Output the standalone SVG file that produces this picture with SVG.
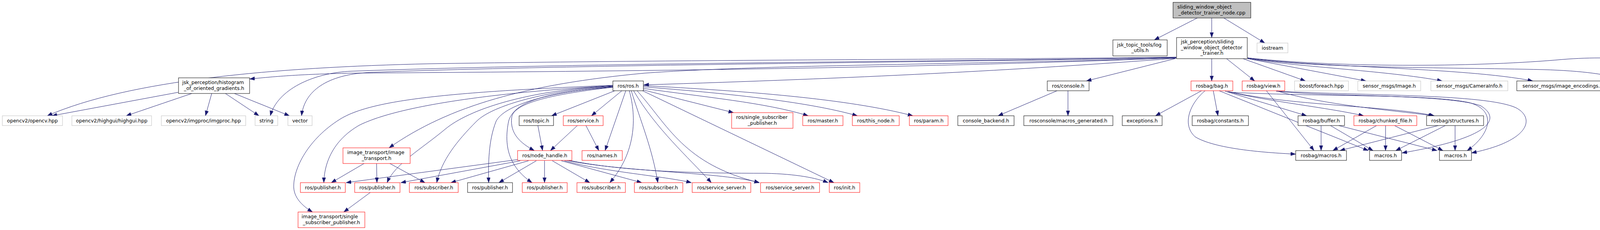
<svg xmlns="http://www.w3.org/2000/svg" width="4404" height="588" viewBox="0 0 4404 588">
<style>
text{font-family:"DejaVu Sans","Liberation Sans",sans-serif;font-size:12.5px;fill:#000}
.c{text-anchor:middle}
.blk rect{fill:#fff;stroke:#000;stroke-width:1}
.red rect{fill:#fff;stroke:#f00;stroke-width:1}
.gry rect{fill:#fff;stroke:#bfbfbf;stroke-width:1}
.root rect{fill:#bfbfbf;stroke:#000;stroke-width:1}
#edges path{fill:none;stroke:#191970;stroke-width:1;marker-end:url(#ah)}
</style>
<defs>
<marker id="ah" markerUnits="userSpaceOnUse" markerWidth="14" markerHeight="10" refX="13" refY="4.7" orient="auto">
<path d="M0,0 L13,4.7 L0,9.4 z" fill="#191970" stroke="#191970" stroke-width="0.5"/>
</marker>
</defs>
<rect x="0" y="0" width="4404" height="588" fill="#fff"/>
<g id="edges">
<path d="M3065,46 L2955,102"/>
<path d="M3102,46 L3102,96"/>
<path d="M3133,46 L3238,110"/>
<path d="M3011,149 C2600,180 2200,200 1648,217"/>
<path d="M3008,150 L2781,207"/>
<path d="M3011,146 C2600,152 1800,152 1100,163 C700,172 330,205 121,296"/>
<path d="M3011,148 C2300,176 1500,183 900,187 C760,190 700,196 639,202"/>
<path d="M3011,147 C2400,158 1500,160 900,182 C800,186 710,230 692,296"/>
<path d="M3011,147 C2400,160 1500,164 950,185 C850,189 780,225 772,296"/>
<path d="M3011,148 C2500,165 1950,165 1650,187 C1350,215 1150,270 996,378"/>
<path d="M3102,150 L3102,207"/>
<path d="M3140,150 L3212,207"/>
<path d="M3182,150 L3342,207"/>
<path d="M3194,150 L3497,207"/>
<path d="M3194,149 C3300,170 3550,180 3692,207"/>
<path d="M3194,148 C3350,172 3750,172 3924,207"/>
<path d="M3194,148 C3350,175 3700,172 3950,178 C4050,181 4120,190 4168,207"/>
<path d="M3194,148 C3450,175 3800,170 4000,152 C4150,140 4280,155 4333,207"/>
<path d="M1574,232 L1412,296"/>
<path d="M1592,232 L1514,296"/>
<path d="M1602,232 L1549,385"/>
<path d="M1569,223 C1420,240 1315,262 1310,300 C1305,340 1330,365 1368,385"/>
<path d="M1647,230 L1878,288"/>
<path d="M1647,226 C1800,248 1960,262 2069,296"/>
<path d="M1647,222 C1850,238 2060,258 2195,296"/>
<path d="M1647,219 C1900,232 2170,252 2337,296"/>
<path d="M1645,232 L2135,467"/>
<path d="M1611,232 C1630,300 1628,390 1561,467"/>
<path d="M1616,232 C1640,310 1670,380 1684,467"/>
<path d="M1622,232 C1680,330 1760,400 1821,467"/>
<path d="M1631,232 C1710,320 1750,420 1944,467"/>
<path d="M1569,219 C1200,240 1000,280 920,320 C850,360 830,420 829,467"/>
<path d="M1569,220 C1350,230 1200,280 1140,330 C1080,380 1010,420 991,467"/>
<path d="M1569,221 C1400,230 1260,270 1220,310 C1170,360 1130,410 1118,467"/>
<path d="M1569,222 C1400,235 1290,270 1270,310 C1250,360 1250,420 1251,467"/>
<path d="M1569,223 C1400,235 1315,260 1302,310 C1290,370 1300,425 1362,467"/>
<path d="M1569,218 C1150,235 950,255 870,305 C790,355 750,430 752,480 C754,510 780,530 800,542"/>
<path d="M1325,408 L886,467"/>
<path d="M1332,411 L1026,467"/>
<path d="M1353,411 L1154,467"/>
<path d="M1373,411 L1277,467"/>
<path d="M1394,411 L1394,467"/>
<path d="M1414,411 L1510,467"/>
<path d="M1437,411 L1643,467"/>
<path d="M1445,411 C1550,440 1700,450 1770,467"/>
<path d="M1450,410 C1600,440 1850,440 1944,467"/>
<path d="M1452,409 C1600,440 1800,443 1960,443 C2040,445 2090,455 2120,467"/>
<path d="M1377,321 L1389,385"/>
<path d="M1478,321 L1409,385"/>
<path d="M1500,321 L1533,385"/>
<path d="M932,418 L848,467"/>
<path d="M964,418 L965,467"/>
<path d="M998,418 L1088,467"/>
<path d="M948,492 L880,542"/>
<path d="M456,236 L133,296"/>
<path d="M491,239 L323,296"/>
<path d="M542,239 L526,296"/>
<path d="M577,239 L663,296"/>
<path d="M600,239 L741,296"/>
<path d="M2706,232 L2555,296"/>
<path d="M2734,232 L2734,296"/>
<path d="M3076,232 L2958,296"/>
<path d="M3106,232 L3118,296"/>
<path d="M3085,232 C3045,265 3025,320 3060,350 C3110,380 3230,390 3317,394"/>
<path d="M3121,232 L3503,385"/>
<path d="M3136,233 L3345,296"/>
<path d="M3142,234 C3250,260 3400,275 3491,296"/>
<path d="M3145,234 C3300,270 3550,270 3672,296"/>
<path d="M3151,236 C3400,248 3650,240 3760,262 C3830,280 3820,340 3756,385"/>
<path d="M3242,232 L3364,385"/>
<path d="M3270,233 C3400,270 3550,280 3670,296"/>
<path d="M3267,233 C3400,248 3700,240 3790,270 C3840,300 3830,350 3589,391"/>
<path d="M3267,233 C3500,245 3800,240 3880,275 C3930,300 3920,360 3767,391"/>
<path d="M3382,321 L3382,385"/>
<path d="M3406,321 L3515,385"/>
<path d="M3427,321 L3679,385"/>
<path d="M3524,321 L3412,385"/>
<path d="M3547,321 L3547,385"/>
<path d="M3570,321 L3694,385"/>
<path d="M3682,321 L3430,385"/>
<path d="M3700,321 L3573,385"/>
<path d="M3725,321 L3725,385"/>
</g>
<g id="n_root" class="root"><rect x="3003" y="6" width="199" height="40"/><text x="3014" y="22">sliding_window_object</text><text class="c" x="3102.5" y="37">_detector_trainer_node.cpp</text></g>
<g id="n_logutils" class="blk"><rect x="2849" y="102" width="139" height="41"/><text x="2859.5" y="118.5">jsk_topic_tools/log</text><text class="c" x="2918.5" y="133">_utils.h</text></g>
<g id="n_trainer" class="blk"><rect x="3012" y="96" width="181" height="54"/><text x="3023" y="111">jsk_perception/sliding</text><text x="3023" y="125.5">_window_object_detector</text><text class="c" x="3102.5" y="140">_trainer.h</text></g>
<g id="n_iostream" class="gry"><rect x="3218" y="110" width="79" height="25"/><text class="c" x="3257.5" y="127">iostream</text></g>
<g id="n_hog" class="blk"><rect x="457" y="199" width="182" height="40"/><text x="466.5" y="215">jsk_perception/histogram</text><text class="c" x="548" y="230">_of_oriented_gradients.h</text></g>
<g id="n_rosh" class="blk"><rect x="1569" y="207" width="78" height="25"/><text class="c" x="1608" y="224">ros/ros.h</text></g>
<g id="n_console" class="blk"><rect x="2681" y="207" width="107" height="25"/><text class="c" x="2734.5" y="224">ros/console.h</text></g>
<g id="n_bag" class="red"><rect x="3049" y="207" width="107" height="25"/><text class="c" x="3102.5" y="224">rosbag/bag.h</text></g>
<g id="n_view" class="red"><rect x="3180" y="207" width="109" height="25"/><text class="c" x="3234.5" y="224">rosbag/view.h</text></g>
<g id="n_foreach" class="gry"><rect x="3314" y="207" width="138" height="25"/><text class="c" x="3383" y="224">boost/foreach.hpp</text></g>
<g id="n_image" class="gry"><rect x="3476" y="207" width="161" height="25"/><text class="c" x="3556.5" y="224">sensor_msgs/Image.h</text></g>
<g id="n_caminfo" class="gry"><rect x="3663" y="207" width="197" height="25"/><text class="c" x="3761.5" y="224">sensor_msgs/CameraInfo.h</text></g>
<g id="n_encodings" class="blk"><rect x="3883" y="207" width="235" height="25"/><text class="c" x="4000.5" y="224">sensor_msgs/image_encodings.h</text></g>
<g id="n_cvbridge" class="blk"><rect x="4142" y="207" width="160" height="25"/><text class="c" x="4222" y="224">cv_bridge/cv_bridge.h</text></g>
<g id="n_fstream" class="gry"><rect x="4326" y="207" width="73" height="25"/><text class="c" x="4362.5" y="224">fstream</text></g>
<g id="n_opencv" class="gry"><rect x="6" y="296" width="154" height="25"/><text class="c" x="83" y="313">opencv2/opencv.hpp</text></g>
<g id="n_highgui" class="gry"><rect x="184" y="296" width="204" height="25"/><text class="c" x="286" y="313">opencv2/highgui/highgui.hpp</text></g>
<g id="n_imgproc" class="gry"><rect x="413" y="296" width="216" height="25"/><text class="c" x="521" y="313">opencv2/imgproc/imgproc.hpp</text></g>
<g id="n_string" class="gry"><rect x="653" y="296" width="58" height="25"/><text class="c" x="682" y="313">string</text></g>
<g id="n_vector" class="gry"><rect x="737" y="296" width="62" height="25"/><text class="c" x="768" y="313">vector</text></g>
<g id="n_topic" class="blk"><rect x="1329" y="296" width="88" height="25"/><text class="c" x="1373" y="313">ros/topic.h</text></g>
<g id="n_service" class="red"><rect x="1442" y="296" width="102" height="25"/><text class="c" x="1493" y="313">ros/service.h</text></g>
<g id="n_ssp" class="red"><rect x="1873" y="288" width="157" height="40"/><text x="1884.5" y="304">ros/single_subscriber</text><text class="c" x="1951.5" y="319">_publisher.h</text></g>
<g id="n_master" class="red"><rect x="2055" y="296" width="103" height="25"/><text class="c" x="2106.5" y="313">ros/master.h</text></g>
<g id="n_thisnode" class="red"><rect x="2182" y="296" width="120" height="25"/><text class="c" x="2242" y="313">ros/this_node.h</text></g>
<g id="n_param" class="red"><rect x="2328" y="296" width="99" height="25"/><text class="c" x="2377.5" y="313">ros/param.h</text></g>
<g id="n_backend" class="blk"><rect x="2452" y="296" width="144" height="25"/><text class="c" x="2524" y="313">console_backend.h</text></g>
<g id="n_macrosgen" class="blk"><rect x="2621" y="296" width="228" height="25"/><text class="c" x="2735" y="313">rosconsole/macros_generated.h</text></g>
<g id="n_exceptions" class="blk"><rect x="2873" y="296" width="102" height="25"/><text class="c" x="2924" y="313">exceptions.h</text></g>
<g id="n_constants" class="blk"><rect x="3052" y="296" width="144" height="25"/><text class="c" x="3124" y="313">rosbag/constants.h</text></g>
<g id="n_buffer" class="blk"><rect x="3323" y="296" width="119" height="25"/><text class="c" x="3382.5" y="313">rosbag/buffer.h</text></g>
<g id="n_chunked" class="red"><rect x="3466" y="296" width="161" height="25"/><text class="c" x="3546.5" y="313">rosbag/chunked_file.h</text></g>
<g id="n_structures" class="blk"><rect x="3652" y="296" width="146" height="25"/><text class="c" x="3725" y="313">rosbag/structures.h</text></g>
<g id="n_imgtrans" class="red"><rect x="878" y="378" width="172" height="40"/><text x="889" y="394">image_transport/image</text><text class="c" x="964" y="409">_transport.h</text></g>
<g id="n_nodehandle" class="red"><rect x="1325" y="385" width="139" height="25"/><text class="c" x="1394.5" y="402">ros/node_handle.h</text></g>
<g id="n_names" class="red"><rect x="1490" y="385" width="103" height="25"/><text class="c" x="1541.5" y="402">ros/names.h</text></g>
<g id="n_bagmacros" class="blk"><rect x="3317" y="385" width="130" height="25"/><text class="c" x="3382" y="402">rosbag/macros.h</text></g>
<g id="n_macros1" class="blk"><rect x="3506" y="385" width="82" height="25"/><text class="c" x="3547" y="402">macros.h</text></g>
<g id="n_macros2" class="blk"><rect x="3685" y="385" width="82" height="25"/><text class="c" x="3726" y="402">macros.h</text></g>
<g id="n_pubA" class="red"><rect x="769" y="467" width="115" height="25"/><text class="c" x="826.5" y="484">ros/publisher.h</text></g>
<g id="n_pubB" class="red"><rect x="908" y="467" width="116" height="25"/><text class="c" x="966" y="484">ros/publisher.h</text></g>
<g id="n_subC" class="red"><rect x="1048" y="467" width="125" height="25"/><text class="c" x="1110.5" y="484">ros/subscriber.h</text></g>
<g id="n_pubD" class="blk"><rect x="1197" y="467" width="115" height="25"/><text class="c" x="1254.5" y="484">ros/publisher.h</text></g>
<g id="n_pubE" class="red"><rect x="1337" y="467" width="115" height="25"/><text class="c" x="1394.5" y="484">ros/publisher.h</text></g>
<g id="n_subF" class="red"><rect x="1477" y="467" width="124" height="25"/><text class="c" x="1539" y="484">ros/subscriber.h</text></g>
<g id="n_subG" class="red"><rect x="1624" y="467" width="124" height="25"/><text class="c" x="1686" y="484">ros/subscriber.h</text></g>
<g id="n_ssH" class="red"><rect x="1772" y="467" width="150" height="25"/><text class="c" x="1847" y="484">ros/service_server.h</text></g>
<g id="n_ssI" class="red"><rect x="1947" y="467" width="151" height="25"/><text class="c" x="2022.5" y="484">ros/service_server.h</text></g>
<g id="n_init" class="red"><rect x="2123" y="467" width="78" height="25"/><text class="c" x="2162" y="484">ros/init.h</text></g>
<g id="n_itssp" class="red"><rect x="763" y="542" width="171" height="40"/><text x="772" y="558">image_transport/single</text><text class="c" x="848.5" y="573">_subscriber_publisher.h</text></g>
</svg>
